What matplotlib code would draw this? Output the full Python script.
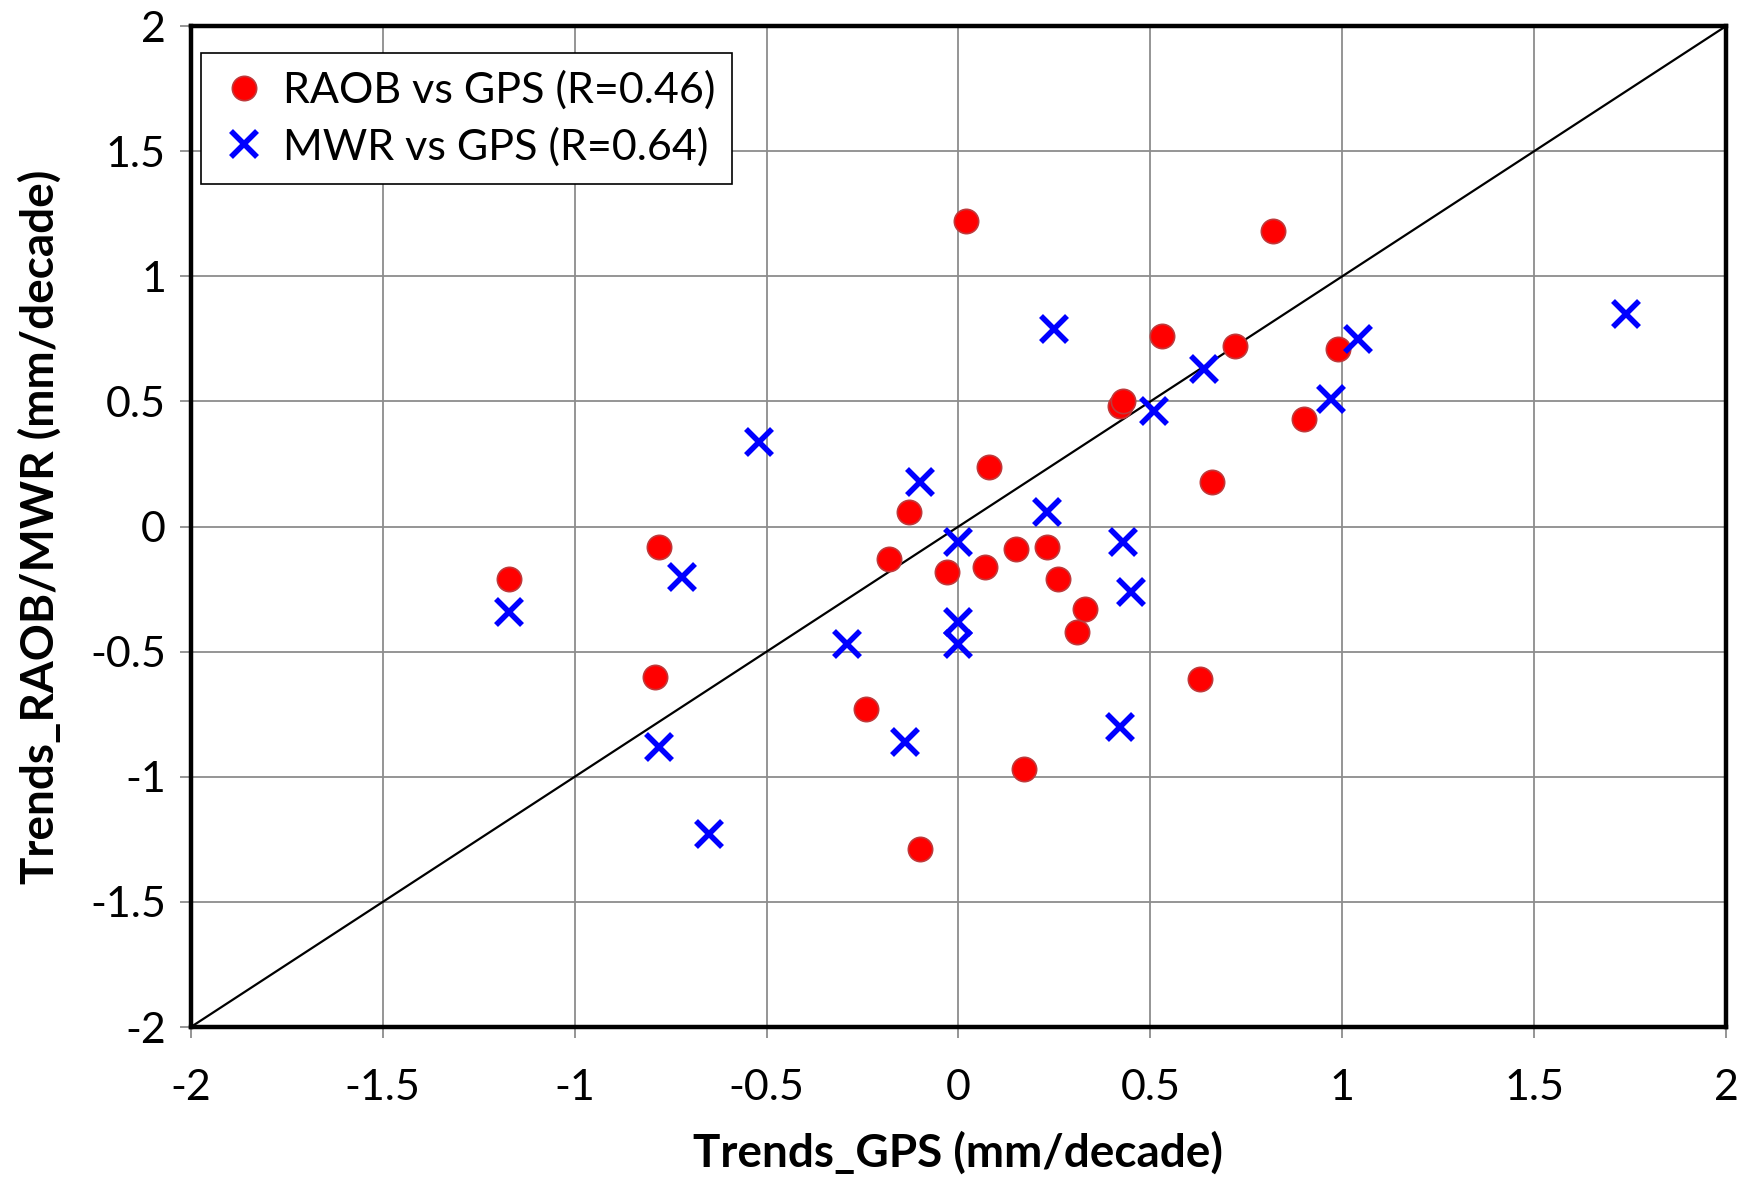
import numpy as np
import matplotlib
matplotlib.use("Agg")
import matplotlib.pyplot as plt

plt.rcParams['font.family'] = ['Lato', 'DejaVu Sans']

# RAOB vs GPS trends (mm/decade)
raob_x = [-1.17, -0.78, -0.79, -0.24, -0.18, -0.13, -0.10, -0.03, 0.02, 0.07,
          0.08, 0.15, 0.17, 0.23, 0.26, 0.31, 0.33, 0.42, 0.43, 0.53,
          0.63, 0.66, 0.72, 0.82, 0.90, 0.99]
raob_y = [-0.21, -0.08, -0.60, -0.73, -0.13, 0.06, -1.29, -0.18, 1.22, -0.16,
          0.24, -0.09, -0.97, -0.08, -0.21, -0.42, -0.33, 0.48, 0.50, 0.76,
          -0.61, 0.18, 0.72, 1.18, 0.43, 0.71]

# MWR vs GPS trends (mm/decade)
mwr_x = [-1.17, -0.78, -0.72, -0.65, -0.52, -0.29, -0.14, -0.10, 0.00, 0.00,
         0.00, 0.23, 0.25, 0.42, 0.43, 0.45, 0.51, 0.64, 0.97, 1.04, 1.74]
mwr_y = [-0.34, -0.88, -0.20, -1.23, 0.34, -0.47, -0.86, 0.18, -0.38, -0.06,
         -0.47, 0.06, 0.79, -0.80, -0.06, -0.26, 0.46, 0.63, 0.51, 0.75, 0.85]

ticks = [-2, -1.5, -1, -0.5, 0, 0.5, 1, 1.5, 2]
tick_labels = ['-2', '-1.5', '-1', '-0.5', '0', '0.5', '1', '1.5', '2']

fig = plt.figure(figsize=(17.51, 11.88), dpi=100)
ax = fig.add_axes([0.109, 0.1355, 0.8767, 0.8425])

ax.plot([-2, 2], [-2, 2], color='black', lw=1.6, zorder=2)
ax.plot(raob_x, raob_y, 'o', ms=17.5, mfc='#ff0000', mec='#c0393b', mew=1.2,
        ls='none', zorder=3, label='RAOB vs GPS (R=0.46)')
ax.plot(mwr_x, mwr_y, 'x', ms=18.5, mec='#0000ff', mew=4,
        ls='none', zorder=4, label='MWR vs GPS (R=0.64)')

ax.set_xlim(-2, 2)
ax.set_ylim(-2, 2)
ax.set_xticks(ticks)
ax.set_xticklabels(tick_labels)
ax.set_yticks(ticks)
ax.set_yticklabels(tick_labels)
ax.grid(True, color='#8c8c8c', lw=1.3)
ax.set_axisbelow(True)
ax.tick_params(axis='both', direction='out', length=8, width=1.3, color='#8c8c8c',
               labelsize=31)
ax.tick_params(axis='x', pad=22)
ax.tick_params(axis='y', pad=10)
for sp in ax.spines.values():
    sp.set_linewidth(3.2)
    sp.set_edgecolor('black')

ax.set_xlabel('Trends_GPS (mm/decade)', fontsize=33, fontweight='bold', labelpad=18)
ax.set_ylabel('Trends_RAOB/MWR (mm/decade)', fontsize=33, fontweight='bold', labelpad=20)

leg = ax.legend(loc='upper left', bbox_to_anchor=(0.0065, 0.973), fontsize=31,
                frameon=True, fancybox=False, edgecolor='black', framealpha=1,
                handletextpad=0.3, handlelength=1.2, borderpad=0.4,
                labelspacing=0.4, borderaxespad=0)
leg.get_frame().set_linewidth(1.2)

fig.savefig('out.png', dpi=100)
